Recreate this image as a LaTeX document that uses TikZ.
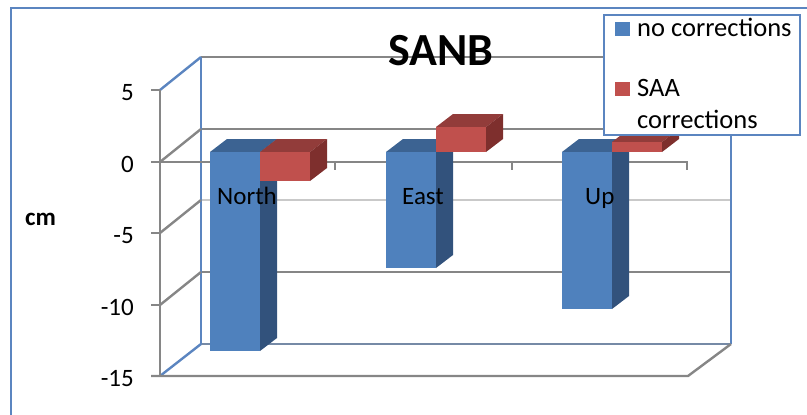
\documentclass[tikz,border=0pt]{standalone}
\usepackage{fontspec}
\setmainfont{Carlito}
\definecolor{barblue}{RGB}{79,129,189}
\definecolor{barblueside}{RGB}{50,82,124}
\definecolor{barbluetop}{RGB}{60,99,146}
\definecolor{barred}{RGB}{192,80,77}
\definecolor{barredside}{RGB}{126,47,45}
\definecolor{barredtop}{RGB}{146,60,58}
\definecolor{gridgray}{RGB}{134,134,134}
\definecolor{wallblue}{RGB}{91,133,192}
\definecolor{floorblue}{RGB}{118,138,166}
\begin{document}
\begin{tikzpicture}[x=1pt,y=-1pt,
		gridline/.style={draw=gridgray,line width=2.4pt},
		wall/.style={draw=wallblue,line width=2.4pt},
		frameline/.style={draw=wallblue,line width=2pt},
		txt/.style={font=\fontsize{25}{32}\selectfont,inner sep=0pt},
		legtxt/.style={font=\fontsize{26.5}{32}\selectfont,inner sep=0pt,anchor=base west},
		ticklbl/.style={txt,anchor=base east}]
		\useasboundingbox (0,0) rectangle (807,415);
		\draw[frameline] (11,415)--(11,8)--(807,8);
		% back wall and side wall
		\draw[gridline] (201,57)--(731,57);
		\draw[gridline] (201,129)--(731,129);
		\draw[gridline,draw=gridgray!45] (201,200)--(731,200);
		\draw[gridline] (201,272)--(731,272);
		\draw[gridline,draw=floorblue] (201,344)--(731,344);
		\draw[wall] (201,57)--(201,344);
		\draw[wall] (731,57)--(731,344);
		\draw[gridline,draw=wallblue] (160,90)--(201,57);
		\draw[gridline] (160,162)--(201,129);
		\draw[gridline] (160,233)--(201,200);
		\draw[gridline] (160,305)--(201,272);
		\draw[gridline,draw=wallblue] (160,376)--(201,344);
		% axes
		\draw[gridline] (160,90)--(160,376);
		\draw[gridline] (151,90)--(160,90) (151,162)--(160,162) (151,233)--(160,233) (151,305)--(160,305);
		\draw[gridline] (151,376)--(688,376)--(731,344);
		\draw[gridline] (151,162)--(688,162);
		\draw[gridline] (160,162)--(160,170) (335,162)--(335,170) (512,162)--(512,170) (687,162)--(687,170);
		% North
		\fill[barbluetop] (210,152)--(227,139)--(277,139)--(260,152)--cycle;
		\fill[barblueside] (260,152)--(277,139)--(277,338)--(260,351)--cycle;
		\fill[barblue] (210,152) rectangle (260,351);
		\fill[barredtop] (260,152)--(277,139)--(327,139)--(310,152)--cycle;
		\fill[barredside] (310,152)--(327,139)--(327,168)--(310,181)--cycle;
		\fill[barred] (260,152) rectangle (310,181);
		% East
		\fill[barbluetop] (386,152)--(403,139)--(453,139)--(436,152)--cycle;
		\fill[barblueside] (436,152)--(453,139)--(453,255)--(436,268)--cycle;
		\fill[barblue] (386,152) rectangle (436,268);
		\fill[barredtop] (436,127)--(453,114)--(503,114)--(486,127)--cycle;
		\fill[barredside] (486,127)--(503,114)--(503,139)--(486,152)--cycle;
		\fill[barred] (436,127) rectangle (486,152);
		% Up
		\fill[barbluetop] (562,152)--(579,139)--(629,139)--(612,152)--cycle;
		\fill[barblueside] (612,152)--(629,139)--(629,296)--(612,309)--cycle;
		\fill[barblue] (562,152) rectangle (612,309);
		\fill[barredtop] (612,142)--(629,129)--(679,129)--(662,142)--cycle;
		\fill[barredside] (662,142)--(679,129)--(679,139)--(662,152)--cycle;
		\fill[barred] (612,142) rectangle (662,152);
		% labels
		\node[ticklbl] (t5) at (134,100) {5};
		\node[ticklbl] (t0) at (134,172) {0};
		\node[ticklbl] (tm5) at (134,243) {-5};
		\node[ticklbl] (tm10) at (134,315) {-10};
		\node[ticklbl] (tm15) at (134,386) {-15};
		\node[txt,font=\fontsize{25}{32}\selectfont\bfseries,anchor=base west] (unit) at (25,225) {cm};
		\node[txt,anchor=base west] (north) at (217,204) {North};
		\node[txt,anchor=base west] (east) at (402,204) {East};
		\node[txt,anchor=base west] (up) at (585,204) {Up};
		\node[txt,font=\fontsize{46}{50}\selectfont\bfseries,anchor=base] (title) at (441,65) {SANB};
		% legend
		\draw[frameline,fill=white] (604,15) rectangle (800,135);
		\fill[barblue] (615,22) rectangle (630,36);
		\fill[barred] (615,82) rectangle (630,96);
		\node[legtxt] (leg1) at (637,36) {no corrections};
		\node[legtxt] (leg2) at (637,96) {SAA};
		\node[legtxt] (leg3) at (637,128) {corrections};
	\end{tikzpicture}
\end{document}
